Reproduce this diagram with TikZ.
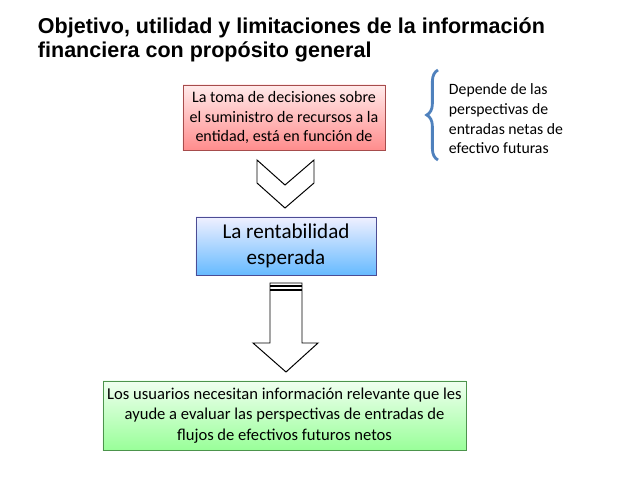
\documentclass[tikz,border=0pt]{standalone}
\usepackage{fontspec}
\setmainfont{Carlito}
\newfontfamily\titlefont{Liberation Sans}
\usetikzlibrary{decorations.pathreplacing}
\definecolor{bracecol}{RGB}{79,129,189}
\tikzset{
  shade box/.style 2 args={rectangle, align=center, inner sep=0pt,
    top color=#2, bottom color=#1, line width=0.4pt},
  outline/.style={draw=black, line width=0.7pt, fill=white}
}
\begin{document}
\begin{tikzpicture}[x=0.025cm, y=-0.025cm]
\useasboundingbox (0,0) rectangle (638,479);
% title
\node[anchor=west, align=left, font=\titlefont\bfseries\fontsize{15.3}{17.5}\selectfont] (title) at (33,40)
  {Objetivo, utilidad y limitaciones de la informaci\'on\\financiera con prop\'osito general};
% boxes
\node[shade box={red!45}{red!8}, draw=red!50!black!70, minimum width=5.05cm, minimum height=1.625cm,
  font=\fontsize{11.4}{14}\selectfont] (toma) at (284,117.5)
  {La toma de decisiones sobre\\el suministro de recursos a la\\entidad, est\'a en funci\'on de};
\node[shade box={blue!45!cyan!60}{blue!6}, draw=blue!40!black!70, minimum width=4.5cm, minimum height=1.45cm,
  font=\fontsize{15}{19}\selectfont] (rent) at (286,246)
  {La rentabilidad\\esperada};
\node[shade box={green!40}{green!6}, draw=green!40!black!70, minimum width=9.075cm, minimum height=1.725cm,
  font=\fontsize{11.8}{14.5}\selectfont] (usu) at (284.5,415.5)
  {Los usuarios necesitan informaci\'on relevante que les\\ayude a evaluar las perspectivas de entradas de\\flujos de efectivos futuros netos};
% brace and note
\draw[bracecol, line width=2pt, decorate, decoration={brace, amplitude=8pt}]
  (438,160) -- (438,70);
\node[anchor=north west, align=left, font=\fontsize{11.2}{14}\selectfont] (dep) at (444,79)
  {Depende de las\\perspectivas de\\entradas netas de\\efectivo futuras};
% chevron
\draw[outline] (257,160) -- (285,185) -- (314,160) -- (314,183) -- (285,208) -- (257,183) -- cycle;
% down arrow
\draw[outline] (270,283) -- (302,283) -- (302,343) -- (318,343) -- (286,372)
  -- (253,343) -- (270,343) -- cycle;
\draw[line width=1pt] (270,286) -- (302,286);
\draw[line width=1pt] (270,290) -- (302,290);
\end{tikzpicture}
\end{document}
